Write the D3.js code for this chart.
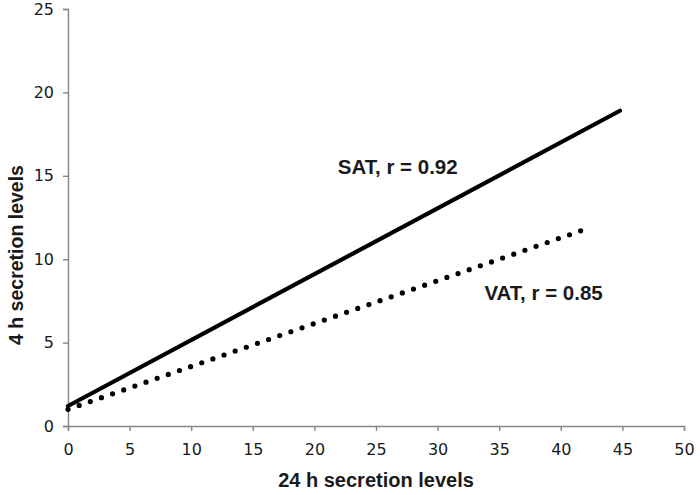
<!DOCTYPE html>
<html><head><meta charset="utf-8">
<script src="https://cdn.jsdelivr.net/npm/d3@7"></script>
<style>body{margin:0;background:#fff}</style>
</head><body>
<svg id="c" width="700" height="495"></svg>
<script>
const xTicks = [0,5,10,15,20,25,30,35,40,45,50];
const yTicks = [0,5,10,15,20,25];
const satX = [0, 44.8];
const satY = [1.2, 18.9];
const vatX = [0, 42.0];
const vatY = [1.0, 11.8];
const labels = ["SAT, r = 0.92", "VAT, r = 0.85"];
const labelPos = [[21.9, 15.45], [33.8, 7.85]];
const xTitle = "24 h secretion levels";
const yTitle = "4 h secretion levels";

const svg = d3.select("#c");
const x = d3.scaleLinear().domain([0,50]).range([68,684]);
const y = d3.scaleLinear().domain([0,25]).range([426,9]);
const axisColor = "#868686";

const gx = svg.append("g").attr("transform","translate(0,426)")
  .call(d3.axisBottom(x).tickValues(xTicks).tickSize(5).tickPadding(13));
const gy = svg.append("g").attr("transform","translate(68,0)")
  .call(d3.axisLeft(y).tickValues(yTicks).tickSize(5).tickPadding(9));
[gx,gy].forEach(g=>{
  g.select(".domain").attr("stroke",axisColor).attr("stroke-width",1.4);
  g.selectAll(".tick line").attr("stroke",axisColor).attr("stroke-width",1.4);
  g.selectAll(".tick text").attr("fill","#1a1a1a").style("font-family","'DejaVu Sans', Verdana, sans-serif").style("font-size","16px");
});

const line = d3.line().x(d=>x(d[0])).y(d=>y(d[1]));
svg.append("path").datum(satX.map((v,i)=>[v,satY[i]]))
  .attr("d",line).attr("fill","none").attr("stroke","#000").attr("stroke-width",4.2).attr("stroke-linecap","round");
svg.append("path").datum(vatX.map((v,i)=>[v,vatY[i]]))
  .attr("d",line).attr("fill","none").attr("stroke","#000").attr("stroke-width",5.2)
  .attr("stroke-linecap","round").attr("stroke-dasharray","0 11.8");

labels.forEach((t,i)=>{
  svg.append("text").attr("x",x(labelPos[i][0])).attr("y",y(labelPos[i][1]))
    .attr("text-anchor","start").attr("dominant-baseline","middle")
    .style("font-family","'Liberation Sans', Arial, sans-serif").style("font-weight","bold").style("font-size","20.5px")
    .attr("fill","#1a1a1a").text(t);
});

svg.append("text").attr("x",376).attr("y",487).attr("text-anchor","middle")
  .style("font-family","'Liberation Sans', Arial, sans-serif").style("font-weight","bold").style("font-size","20px")
  .attr("fill","#1a1a1a").text(xTitle);
svg.append("text").attr("transform","translate(23,255) rotate(-90)").attr("text-anchor","middle")
  .style("font-family","'Liberation Sans', Arial, sans-serif").style("font-weight","bold").style("font-size","19.5px")
  .attr("fill","#1a1a1a").text(yTitle);
</script>
</body></html>
